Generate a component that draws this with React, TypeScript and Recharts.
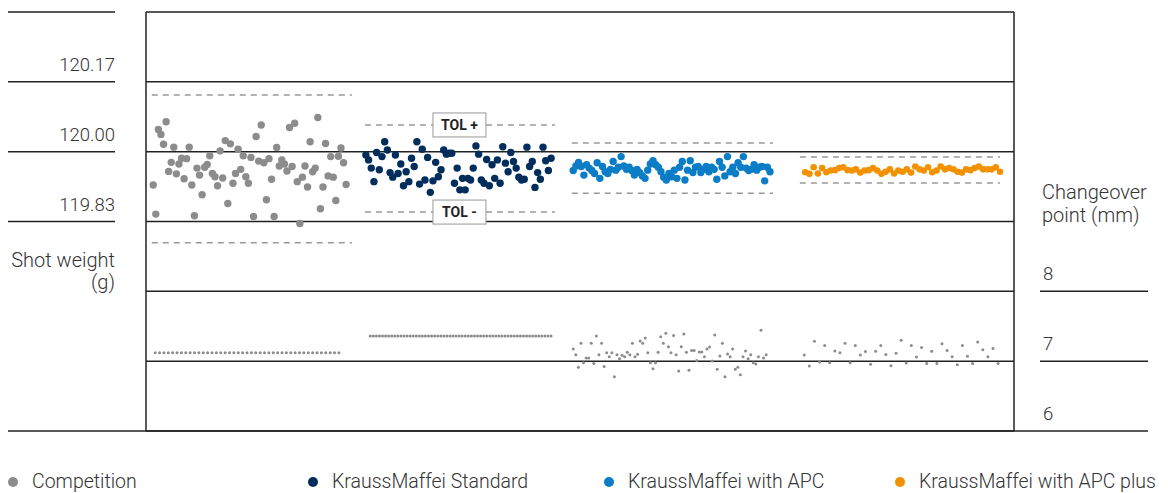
import React from 'react';
import {
    ScatterChart, Scatter, XAxis, YAxis, CartesianGrid, ReferenceLine, ReferenceDot, Legend
} from 'recharts';

const FONT = 'Roboto, sans-serif';
const INK = '#222';
const TEXT = '#333';

const seriesNames = ['Competition', 'KraussMaffei Standard', 'KraussMaffei with APC', 'KraussMaffei with APC plus'];
const seriesColors = ['#8c8c8c', '#002d5c', '#0b7dc6', '#f39200'];

// shot weight (g), one value per shot, in shot order
const competitionWeight = [
    119.919, 119.848, 120.054, 120.042, 120.018, 120.073, 119.952, 119.974, 120.011, 119.946,
    119.970, 119.984, 119.934, 119.983, 120.011, 119.919, 119.844, 119.960, 119.943, 119.895,
    119.962, 119.969, 119.990, 119.947, 119.939, 119.917, 120.002, 119.936, 120.027, 119.874,
    120.019, 119.923, 119.947, 120.006, 119.957, 119.990, 119.939, 119.923, 119.986, 119.842,
    120.037, 119.977, 120.065, 119.973, 119.883, 119.983, 119.933, 119.842, 120.010, 119.965,
    119.980, 119.970, 119.953, 120.059, 119.964, 120.069, 119.927, 119.825, 119.938, 119.965,
    119.914, 120.024, 119.951, 119.960, 120.083, 119.861, 119.914, 120.020, 119.941, 119.988,
    119.938, 119.881, 119.989, 120.009, 119.973, 119.920,
];
const standardWeight = [
    119.992, 119.980, 119.960, 119.927, 119.998, 119.956, 119.988, 120.024, 120.004, 119.949,
    119.938, 119.992, 119.947, 119.970, 119.917, 119.951, 119.927, 119.984, 119.964, 120.024,
    119.921, 120.006, 119.931, 119.986, 119.901, 119.929, 119.974, 119.939, 119.956, 120.004,
    119.994, 119.996, 119.996, 119.923, 119.960, 119.907, 119.935, 119.907, 119.935, 119.931,
    119.960, 120.014, 119.994, 119.931, 119.923, 119.981, 119.917, 119.968, 119.935, 119.980,
    119.923, 120.012, 119.972, 119.951, 119.998, 119.976, 119.960, 119.938, 119.931, 119.933,
    120.011, 119.964, 119.976, 119.913, 119.949, 119.933, 120.011, 119.978, 119.954, 119.984,
];
const apcWeight = [
    119.954, 119.965, 119.974, 119.964, 119.943, 119.968, 119.960, 119.954, 119.947, 119.973,
    119.935, 119.964, 119.951, 119.947, 119.957, 119.976, 119.955, 119.962, 119.988, 119.965,
    119.957, 119.962, 119.954, 119.943, 119.957, 119.949, 119.941, 119.935, 119.955, 119.970,
    119.978, 119.968, 119.962, 119.951, 119.938, 119.931, 119.947, 119.939, 119.955, 119.935,
    119.962, 119.976, 119.931, 119.955, 119.978, 119.949, 119.962, 119.964, 119.949, 119.957,
    119.964, 119.951, 119.962, 119.957, 119.933, 119.976, 119.962, 119.941, 119.988, 119.951,
    119.962, 119.947, 119.973, 119.962, 119.988, 119.960, 119.954, 119.957, 119.968, 119.955,
    119.962, 119.964, 119.929, 119.962, 119.951,
];
const apcPlusWeight = [
    119.950, 119.946, 119.962, 119.947, 119.960, 119.950, 119.954, 119.955, 119.960, 119.962,
    119.955, 119.954, 119.957, 119.949, 119.954, 119.955, 119.960, 119.954, 119.946, 119.951,
    119.957, 119.947, 119.954, 119.951, 119.957, 119.949, 119.964, 119.957, 119.954, 119.962,
    119.950, 119.954, 119.964, 119.957, 119.960, 119.957, 119.951, 119.949, 119.957, 119.955,
    119.960, 119.964, 119.957, 119.957, 119.957, 119.962, 119.951,
];

// changeover point (mm)
const competitionChangeover = [
    7.12, 7.12, 7.12, 7.12, 7.12, 7.12, 7.12, 7.12, 7.12, 7.12,
    7.12, 7.12, 7.12, 7.12, 7.12, 7.12, 7.12, 7.12, 7.12, 7.12,
    7.12, 7.12, 7.12, 7.12, 7.12, 7.12, 7.12, 7.12, 7.12, 7.12,
    7.12, 7.12, 7.12, 7.12, 7.12, 7.12, 7.12, 7.12, 7.12, 7.12,
    7.12, 7.12, 7.12,
];
const standardChangeover = [
    7.36, 7.36, 7.36, 7.36, 7.36, 7.36, 7.36, 7.36, 7.36, 7.36,
    7.36, 7.36, 7.36, 7.36, 7.36, 7.36, 7.36, 7.36, 7.36, 7.36,
    7.36, 7.36, 7.36, 7.36, 7.36, 7.36, 7.36, 7.36, 7.36, 7.36,
    7.36, 7.36, 7.36, 7.36, 7.36, 7.36, 7.36, 7.36, 7.36, 7.36,
    7.36, 7.36, 7.36, 7.36, 7.36, 7.36, 7.36, 7.36, 7.36, 7.36,
    7.36, 7.36, 7.36, 7.36, 7.36, 7.36, 7.36, 7.36, 7.36, 7.36,
];
const apcChangeover = [
    7.175, 7.093, 6.912, 7.256, 6.979, 7.046, 7.046, 7.256, 6.965, 7.361,
    7.093, 7.256, 6.922, 7.122, 7.065, 7.122, 6.778, 7.093, 7.036, 7.084,
    7.065, 7.127, 7.093, 7.256, 7.065, 7.098, 7.289, 7.256, 7.332, 7.122,
    6.979, 6.893, 6.979, 7.127, 7.351, 7.256, 7.399, 7.208, 7.122, 7.366,
    7.093, 6.860, 7.208, 7.389, 7.127, 6.869, 7.151, 7.151, 7.008, 7.132,
    7.132, 7.065, 7.175, 7.203, 7.003, 7.375, 6.883, 7.074, 7.256, 6.778,
    7.103, 7.065, 7.175, 6.883, 6.912, 6.807, 7.065, 7.146, 7.036, 7.093,
    6.979, 6.960, 7.065, 7.442, 7.046, 7.093,
];
const apcPlusChangeover = [
    7.089, 6.931, 7.285, 6.989, 7.223, 6.979, 7.146, 7.122, 7.256, 6.979,
    7.223, 7.089, 7.137, 6.955, 7.141, 7.223, 7.094, 6.936, 7.113, 7.299,
    6.974, 7.223, 7.060, 7.194, 6.965, 7.141, 6.965, 7.251, 7.151, 7.065,
    6.950, 7.223, 7.070, 6.965, 7.275, 7.165, 7.065, 7.180, 6.965,
];

// tolerance band per group (g)
const tolUpper = [120.138, 120.065, 120.021, 119.987];
const tolLower = [119.778, 119.853, 119.899, 119.924];

const weightTicks = [119.32, 119.49, 119.66, 119.83, 120.0, 120.17, 120.34];
const weightLabels = [119.83, 120.0, 120.17];
const changeoverTicks = [6, 7, 8];
const slotTicks = [1, 2, 3, 4, 5, 6, 7, 8, 9, 10, 11, 12, 13, 14, 15, 16, 17];

// where each group sits along the x axis (slots 0..18)
const weightSpans = [[0.15, 4.15], [4.56, 8.4], [8.86, 12.94], [13.67, 17.71]];
const changeoverSpans = [[0.19, 4.0], [4.65, 8.4], [8.86, 12.86], [13.65, 17.67]];
const tolSpans = [[0.12, 4.27], [4.54, 8.48], [8.83, 13.0], [13.56, 17.71]];
const legendLeft = [0, 300, 596, 887];

const spread = (values: number[], span: number[]) =>
    values.map((y, i) => ({ x: span[0] + (i * (span[1] - span[0])) / (values.length - 1), y }));

const weights = [competitionWeight, standardWeight, apcWeight, apcPlusWeight];
const changeovers = [competitionChangeover, standardChangeover, apcChangeover, apcPlusChangeover];
const dotSize = [3.7, 3.7, 3.7, 3.3];

const WeightTick = ({ y, payload }: any) => {
    const v = payload.value;
    const labelled = weightLabels.includes(v);
    let line = null;
    if (v === weightTicks[0]) line = <line x1={0} x2={138} y1={y} y2={y} stroke={INK} strokeWidth={1.5} />;
    else if (v >= 119.83) line = <line x1={0} x2={107} y1={y} y2={y} stroke={INK} strokeWidth={1.5} />;
    return (
        <g>
            {line}
            {labelled && (
                <text x={107} y={y - 11} textAnchor="end" fontFamily={FONT} fontWeight={300} fontSize={18.5} fill={TEXT}>
                    {v.toFixed(2)}
                </text>
            )}
        </g>
    );
};

const ChangeoverTick = ({ y, payload }: any) => {
    const v = payload.value;
    return (
        <g>
            <line x1={v === 6 ? 1006 : 1032} x2={1140} y1={y} y2={y} stroke={INK} strokeWidth={1.5} />
            <text x={1035} y={y - 11} fontFamily={FONT} fontWeight={300} fontSize={18.5} fill={TEXT}>{v}</text>
        </g>
    );
};

const WeightTitle = () => (
    <text textAnchor="end" fontFamily={FONT} fontWeight={300} fontSize={20} fill={TEXT}>
        <tspan x={107} y={259}>Shot weight</tspan>
        <tspan x={107} y={281}>(g)</tspan>
    </text>
);

const ChangeoverTitle = () => (
    <text fontFamily={FONT} fontWeight={300} fontSize={20} fill={TEXT}>
        <tspan x={1034} y={191}>Changeover</tspan>
        <tspan x={1034} y={214}>point (mm)</tspan>
    </text>
);

const TolBox = ({ cx, cy, label }: any) => (
    <g>
        <rect x={cx - 26.5} y={cy - 12} width={53} height={24} fill="#fff" stroke="#999" strokeWidth={1} />
        <text x={cx} y={cy + 5} textAnchor="middle" fontFamily={FONT} fontSize={14} fontWeight={700} fill={INK}>
            {label}
        </text>
    </g>
);

const renderLegend = () => (
    <div style={{ position: 'relative', height: 48, fontFamily: FONT, fontWeight: 300, fontSize: 19.5, color: TEXT }}>
        {seriesNames.map((name, i) => (
            <div key={name} style={{ position: 'absolute', left: legendLeft[i], top: 25, display: 'flex', alignItems: 'center', lineHeight: '24px', whiteSpace: 'nowrap' }}>
                <span style={{ display: 'inline-block', width: 10, height: 10, borderRadius: 5, background: seriesColors[i], marginRight: 14 }} />
                <span>{name}</span>
            </div>
        ))}
    </div>
);

const App = () => (
    <ScatterChart width={1160} height={485} margin={{ top: 4, right: 0, bottom: 0, left: 0 }}>
        <CartesianGrid yAxisId="w" vertical={false} stroke={INK} strokeWidth={1.5} />
        <XAxis type="number" dataKey="x" domain={[0, 18]} ticks={slotTicks} interval={0} tick={false}
            tickSize={14} height={14} axisLine={{ stroke: INK, strokeWidth: 1.5 }} tickLine={{ stroke: INK, strokeWidth: 1.2 }} />
        <YAxis yAxisId="w" type="number" dataKey="y" domain={[119.32, 120.34]} ticks={weightTicks} interval={0}
            allowDataOverflow width={138} tickLine={false} axisLine={{ stroke: INK, strokeWidth: 1.5 }}
            tick={<WeightTick />} label={<WeightTitle />} />
        <YAxis yAxisId="c" orientation="right" type="number" dataKey="y" domain={[6, 12]} ticks={changeoverTicks} interval={0}
            allowDataOverflow width={154} tickLine={false} axisLine={{ stroke: INK, strokeWidth: 1.5 }}
            tick={<ChangeoverTick />} label={<ChangeoverTitle />} />
        {tolSpans.map((span, i) => (
            <ReferenceLine key={`u${i}`} yAxisId="w" segment={[{ x: span[0], y: tolUpper[i] }, { x: span[1], y: tolUpper[i] }]}
                stroke="#999" strokeWidth={1.5} strokeDasharray="6 5" />
        ))}
        {tolSpans.map((span, i) => (
            <ReferenceLine key={`l${i}`} yAxisId="w" segment={[{ x: span[0], y: tolLower[i] }, { x: span[1], y: tolLower[i] }]}
                stroke="#999" strokeWidth={1.5} strokeDasharray="6 5" />
        ))}
        <ReferenceDot yAxisId="w" x={6.5} y={tolUpper[1]} shape={(p: any) => <TolBox {...p} label="TOL +" />} />
        <ReferenceDot yAxisId="w" x={6.5} y={tolLower[1]} shape={(p: any) => <TolBox {...p} label="TOL -" />} />
        {changeovers.map((vals, i) => (
            <Scatter key={`c${i}`} yAxisId="c" data={spread(vals, changeoverSpans[i])} isAnimationActive={false}
                shape={(p: any) => <circle cx={p.cx} cy={p.cy} r={1.5} fill="#8c8c8c" />} />
        ))}
        {weights.map((vals, i) => (
            <Scatter key={`w${i}`} name={seriesNames[i]} yAxisId="w" data={spread(vals, weightSpans[i])} isAnimationActive={false}
                shape={(p: any) => <circle cx={p.cx} cy={p.cy} r={dotSize[i]} fill={seriesColors[i]} />} />
        ))}
        <Legend verticalAlign="bottom" align="left" content={renderLegend}
            wrapperStyle={{ left: 0, bottom: 0, width: 1160, height: 48 }} />
    </ScatterChart>
);

export default App;
